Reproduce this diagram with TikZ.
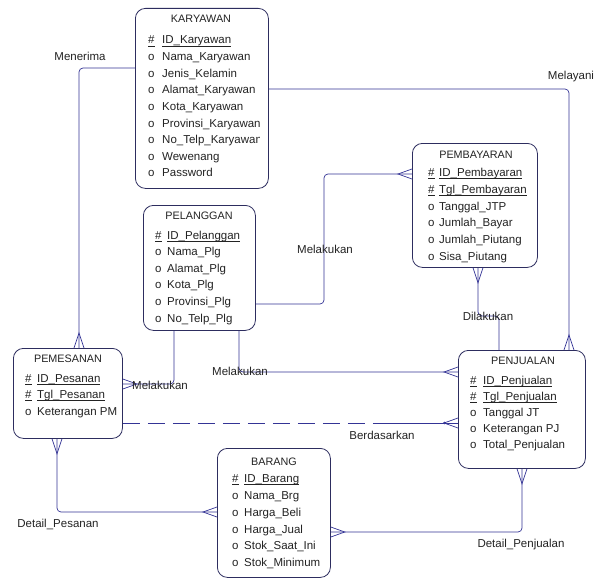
\documentclass[tikz,border=0pt]{standalone}
\usepackage{fontspec}
\setmainfont{Liberation Sans}
\usetikzlibrary{calc}

\definecolor{edgeblue}{RGB}{52,52,150}
\definecolor{boxline}{RGB}{45,45,95}
\definecolor{ink}{RGB}{35,35,35}

% primary-key underline, drawn at the height of the underscore
\newcommand\keyul[1]{\setbox0\hbox{#1}\rlap{\rule[-2.2pt]{\wd0}{0.6pt}}\box0}
\newcommand\erfont{\fontsize{11.5}{13.8}\selectfont}

\tikzset{
  entity/.style={draw=boxline, line width=0.8pt, rounded corners=10pt, fill=white,
                 anchor=north west, inner sep=0pt},
  etitle/.style={anchor=base, inner sep=0pt, text=ink, font=\fontsize{10.8}{13}\selectfont},
  attr/.style={anchor=base west, inner sep=0pt, text=ink, font=\erfont},
  rel/.style={draw=edgeblue, line width=0.7pt, rounded corners=4pt},
  relcrow/.style={draw=edgeblue, line width=0.7pt},
  lbl/.style={inner sep=0pt, text=ink, font=\erfont},
  % crow's feet, drawn from a point on the box border outwards
  footN/.pic={\draw[relcrow] (-5,0) -- (0,-15) -- (5,0);},
  footS/.pic={\draw[relcrow] (-5,0) -- (0,15) -- (5,0);},
  footW/.pic={\draw[relcrow] (0,-5) -- (-14,0) -- (0,5);},
  footE/.pic={\draw[relcrow] (0,-5) -- (14,0) -- (0,5);},
}

\begin{document}
\begin{tikzpicture}[x=1pt, y=-1pt]
\fill[white] (0,0) rectangle (597,578);
\useasboundingbox (0,0) rectangle (597,578);

% ---------------- entities ----------------
\node[entity, minimum width=133pt, minimum height=180pt] (kar) at (135,8) {};
\node[entity, minimum width=125pt, minimum height=124pt] (pby) at (412,143) {};
\node[entity, minimum width=112pt, minimum height=125pt] (plg) at (143,205) {};
\node[entity, minimum width=109pt, minimum height=90pt]  (pms) at (13,348) {};
\node[entity, minimum width=127pt, minimum height=118pt] (pju) at (458,350) {};
\node[entity, minimum width=113pt, minimum height=129pt] (brg) at (217,448) {};

% KARYAWAN (long attribute names are cut at the column edge)
\node[etitle] (kar-t) at (201,23) {KARYAWAN};
\begin{scope}
\clip (136,9) rectangle (259,187);
\node[attr] (kar-m1) at (148,44)    {\keyul{\#}};
\node[attr] (kar-a1) at (162,44)    {\keyul{ID\_Karyawan}};
\node[attr] (kar-m2) at (148,60.6)  {o};
\node[attr] (kar-a2) at (162,60.6)  {Nama\_Karyawan};
\node[attr] (kar-m3) at (148,77.2)  {o};
\node[attr] (kar-a3) at (162,77.2)  {Jenis\_Kelamin};
\node[attr] (kar-m4) at (148,93.8)  {o};
\node[attr] (kar-a4) at (162,93.8)  {Alamat\_Karyawan};
\node[attr] (kar-m5) at (148,110.4) {o};
\node[attr] (kar-a5) at (162,110.4) {Kota\_Karyawan};
\node[attr] (kar-m6) at (148,127)   {o};
\node[attr] (kar-a6) at (162,127)   {Provinsi\_Karyawan};
\node[attr] (kar-m7) at (148,143.6) {o};
\node[attr] (kar-a7) at (162,143.6) {No\_Telp\_Karyawan};
\node[attr] (kar-m8) at (148,160.2) {o};
\node[attr] (kar-a8) at (162,160.2) {Wewenang};
\node[attr] (kar-m9) at (148,176.8) {o};
\node[attr] (kar-a9) at (162,176.8) {Password};
\end{scope}

% PEMBAYARAN
\node[etitle] (pby-t) at (476,158) {PEMBAYARAN};
\node[attr] (pby-m1) at (428,176) {\keyul{\#}};
\node[attr] (pby-a1) at (439,176) {\keyul{ID\_Pembayaran}};
\node[attr] (pby-m2) at (428,193) {\keyul{\#}};
\node[attr] (pby-a2) at (439,193) {\keyul{Tgl\_Pembayaran}};
\node[attr] (pby-m3) at (428,210) {o};
\node[attr] (pby-a3) at (439,210) {Tanggal\_JTP};
\node[attr] (pby-m4) at (428,226) {o};
\node[attr] (pby-a4) at (439,226) {Jumlah\_Bayar};
\node[attr] (pby-m5) at (428,243) {o};
\node[attr] (pby-a5) at (439,243) {Jumlah\_Piutang};
\node[attr] (pby-m6) at (428,260) {o};
\node[attr] (pby-a6) at (439,260) {Sisa\_Piutang};

% PELANGGAN
\node[etitle] (plg-t) at (199,219) {PELANGGAN};
\node[attr] (plg-m1) at (155,239) {\keyul{\#}};
\node[attr] (plg-a1) at (167,239) {\keyul{ID\_Pelanggan}};
\node[attr] (plg-m2) at (155,255) {o};
\node[attr] (plg-a2) at (167,255) {Nama\_Plg};
\node[attr] (plg-m3) at (155,272) {o};
\node[attr] (plg-a3) at (167,272) {Alamat\_Plg};
\node[attr] (plg-m4) at (155,288) {o};
\node[attr] (plg-a4) at (167,288) {Kota\_Plg};
\node[attr] (plg-m5) at (155,305) {o};
\node[attr] (plg-a5) at (167,305) {Provinsi\_Plg};
\node[attr] (plg-m6) at (155,322) {o};
\node[attr] (plg-a6) at (167,322) {No\_Telp\_Plg};

% PEMESANAN
\node[etitle] (pms-t) at (68,362) {PEMESANAN};
\node[attr] (pms-m1) at (25,382) {\keyul{\#}};
\node[attr] (pms-a1) at (37,382) {\keyul{ID\_Pesanan}};
\node[attr] (pms-m2) at (25,398) {\keyul{\#}};
\node[attr] (pms-a2) at (37,398) {\keyul{Tgl\_Pesanan}};
\node[attr] (pms-m3) at (25,415) {o};
\node[attr] (pms-a3) at (37,415) {Keterangan PM};

% PENJUALAN
\node[etitle] (pju-t) at (523,364) {PENJUALAN};
\node[attr] (pju-m1) at (470,384) {\keyul{\#}};
\node[attr] (pju-a1) at (483,384) {\keyul{ID\_Penjualan}};
\node[attr] (pju-m2) at (470,400) {\keyul{\#}};
\node[attr] (pju-a2) at (483,400) {\keyul{Tgl\_Penjualan}};
\node[attr] (pju-m3) at (470,416) {o};
\node[attr] (pju-a3) at (483,416) {Tanggal JT};
\node[attr] (pju-m4) at (470,432) {o};
\node[attr] (pju-a4) at (483,432) {Keterangan PJ};
\node[attr] (pju-m5) at (470,448) {o};
\node[attr] (pju-a5) at (483,448) {Total\_Penjualan};

% BARANG
\node[etitle] (brg-t) at (274,465) {BARANG};
\node[attr] (brg-m1) at (232,482) {\keyul{\#}};
\node[attr] (brg-a1) at (244,482) {\keyul{ID\_Barang}};
\node[attr] (brg-m2) at (232,499) {o};
\node[attr] (brg-a2) at (244,499) {Nama\_Brg};
\node[attr] (brg-m3) at (232,516) {o};
\node[attr] (brg-a3) at (244,516) {Harga\_Beli};
\node[attr] (brg-m4) at (232,533) {o};
\node[attr] (brg-a4) at (244,533) {Harga\_Jual};
\node[attr] (brg-m5) at (232,549) {o};
\node[attr] (brg-a5) at (244,549) {Stok\_Saat\_Ini};
\node[attr] (brg-m6) at (232,566) {o};
\node[attr] (brg-a6) at (244,566) {Stok\_Minimum};

% ---------------- relationships ----------------
% Menerima: KARYAWAN - PEMESANAN
\draw[rel] (kar.west |- 0,68) -| (pms.north -| 79,0);
\pic at (pms.north -| 79,0) {footN};
% Melayani: KARYAWAN - PENJUALAN
\draw[rel] (kar.east |- 0,89) -| (pju.north -| 569,0);
\pic at (pju.north -| 569,0) {footN};
% Melakukan: PELANGGAN - PEMBAYARAN
\draw[rel] (plg.east |- 0,304) -| (324,174) -- (pby.west |- 0,174);
\pic at (pby.west |- 0,174) {footW};
% Dilakukan: PEMBAYARAN - PENJUALAN
\draw[rel] (pby.south -| 478,0) |- (499,316) -- (pju.north -| 499,0);
\pic at (pby.south -| 478,0) {footS};
% Melakukan: PELANGGAN - PEMESANAN
\draw[rel] (plg.south -| 174,0) |- (pms.east |- 0,384);
\pic at (pms.east |- 0,384) {footE};
% Melakukan: PELANGGAN - PENJUALAN
\draw[rel] (plg.south -| 239,0) |- (pju.west |- 0,372);
\pic at (pju.west |- 0,372) {footW};
% Berdasarkan: PEMESANAN - PENJUALAN (optional half dashed)
\coordinate (bsplit) at (380,423);
\draw[rel, dash pattern=on 17pt off 8pt] (pms.east |- bsplit) -- (bsplit);
\draw[rel] (bsplit) -- (pju.west |- bsplit);
\pic at (pju.west |- bsplit) {footW};
\fill[edgeblue] ($(pju.west |- bsplit)+(-13.5,0)$) circle (1.3pt);
% Detail_Pesanan: PEMESANAN - BARANG
\draw[rel] (pms.south -| 57,0) |- (brg.west |- 0,512);
\pic at (pms.south -| 57,0) {footS};
\pic at (brg.west |- 0,512) {footW};
% Detail_Penjualan: PENJUALAN - BARANG
\draw[rel] (pju.south -| 522,0) |- (brg.east |- 0,532);
\pic at (pju.south -| 522,0) {footS};
\pic at (brg.east |- 0,532) {footE};

% ---------------- relationship names ----------------
\node[lbl] (l-menerima) at (80,56)   {Menerima};
\node[lbl] (l-melayani) at (571,77)  {Melayani};
\node[lbl] (l-mel1)     at (325,249) {Melakukan};
\node[lbl] (l-dil)      at (488,316) {Dilakukan};
\node[lbl] (l-mel2)     at (160,385) {Melakukan};
\node[lbl] (l-mel3)     at (240,371) {Melakukan};
\node[lbl] (l-berd)     at (382,435) {Berdasarkan};
\node[lbl] (l-dpes)     at (58,524)  {Detail\_Pesanan};
\node[lbl] (l-dpj)      at (521,545) {Detail\_Penjualan};
\end{tikzpicture}
\end{document}
